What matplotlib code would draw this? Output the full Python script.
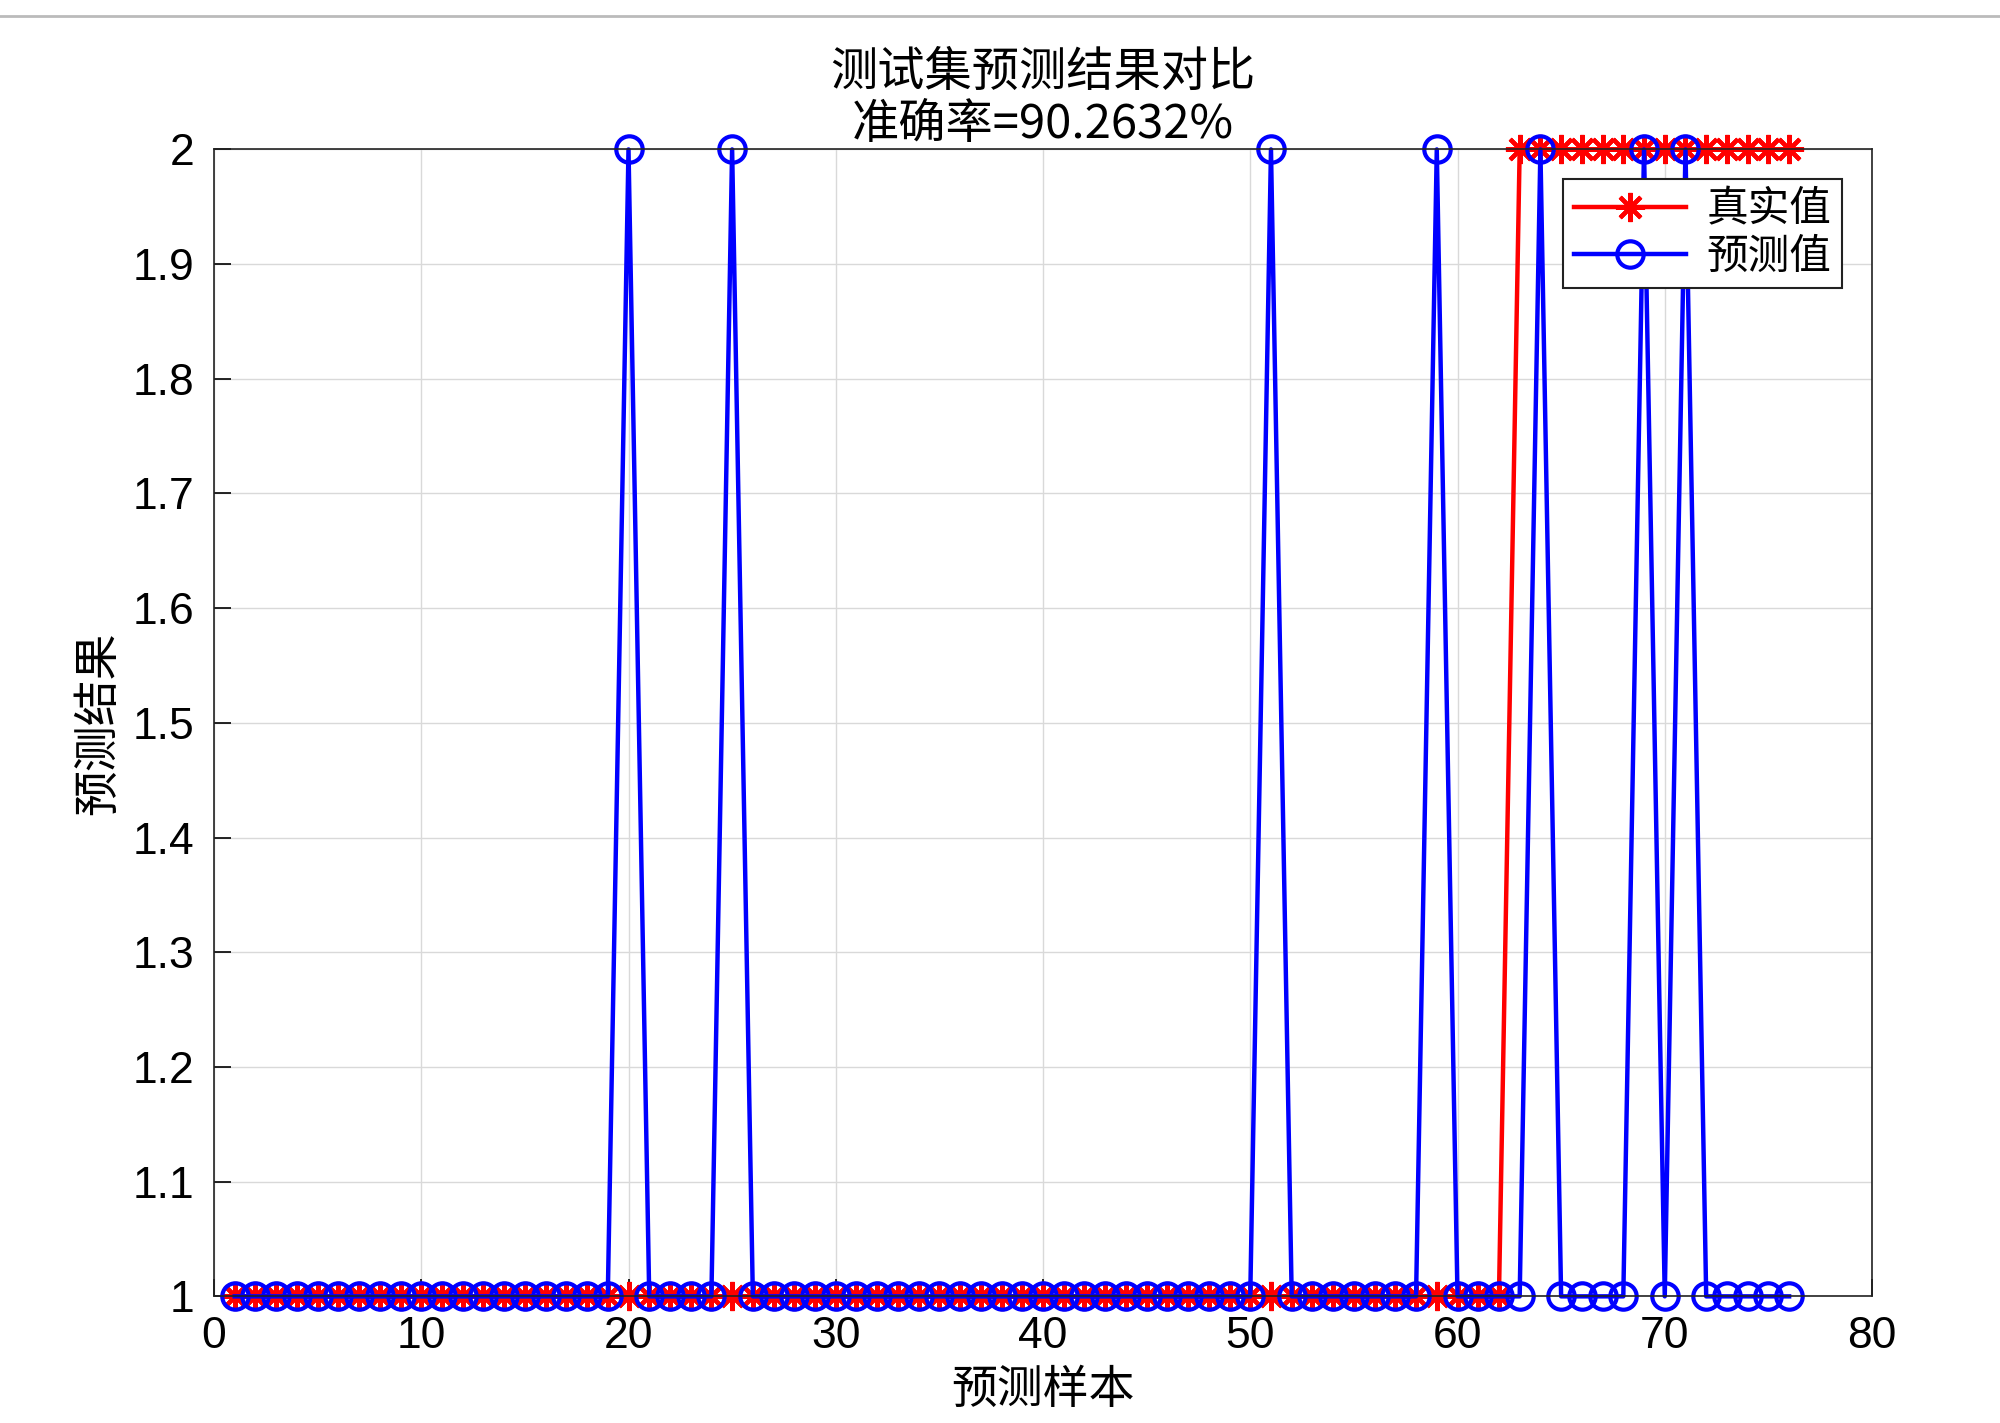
import numpy as np
import matplotlib
matplotlib.use('Agg')
import matplotlib.pyplot as plt

plt.rcParams['font.family'] = ['Liberation Sans', 'Noto Sans CJK SC', 'DejaVu Sans']

# Datos
n_muestras = 76
real = [1] * 62 + [2] * 14
pred = [1] * 76
for k in [20, 25, 51, 59, 64, 69, 71]:
    pred[k - 1] = 2
titulo = '测试集预测结果对比\n准确率=90.2632%'

x = np.arange(1, n_muestras + 1)

fig = plt.figure(figsize=(20, 14.23), dpi=100)
ax = fig.add_axes([0.107, 0.089, 0.829, 0.806])

ax.plot(x, real, color='#ff0000', lw=3.2, marker=(8, 2, 0), ms=21, mew=3,
        label='真实值')
ax.plot(x, pred, color='#0000ff', lw=3.2, marker='o', ms=19, mew=3,
        mfc='none', label='预测值')

ax.set_xlim(0, 80)
ax.set_ylim(1, 2)
ax.set_xticks(np.arange(0, 81, 10))
ax.set_yticks(np.arange(1, 2.01, 0.1))
ax.set_yticklabels(['1', '1.1', '1.2', '1.3', '1.4', '1.5', '1.6', '1.7',
                    '1.8', '1.9', '2'])
ax.grid(True, color='#d9d9d9', lw=1)
ax.set_axisbelow(True)
ax.tick_params(direction='in', length=12, width=1.2, labelsize=32, pad=14)
for s in ax.spines.values():
    s.set_linewidth(1.2)
    s.set_color('#222222')
for c in ax.get_children():
    if isinstance(c, matplotlib.lines.Line2D):
        c.set_clip_on(False)

cjk = ['Noto Sans CJK SC', 'Liberation Sans']
ax.set_xlabel('预测样本', fontsize=33, labelpad=6, family=cjk)
ax.set_ylabel('预测结果', fontsize=33, labelpad=8, family=cjk)
ax.set_title(titulo, fontsize=34, linespacing=1.1, pad=8, family=cjk,
             fontweight='medium')

leg = ax.legend(loc='upper right', bbox_to_anchor=(0.982, 0.974),
                fancybox=False, edgecolor='#222222', framealpha=1,
                handlelength=2.7, borderpad=0.25, labelspacing=0.15,
                handletextpad=0.5, borderaxespad=0, prop={'family': cjk, 'size': 30})
leg.get_frame().set_linewidth(1.5)

# linea gris de la captura
fig.add_artist(plt.Line2D([0, 1], [0.989, 0.989], color='#bbbbbb', lw=2))

fig.savefig('out.png', dpi=100)
